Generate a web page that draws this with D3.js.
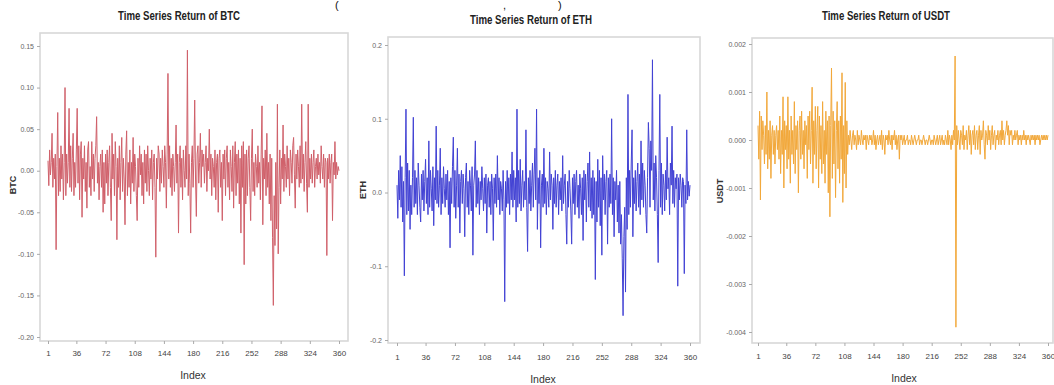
<!DOCTYPE html>
<html>
<head>
<meta charset="utf-8">
<script src="https://cdn.jsdelivr.net/npm/d3@7"></script>
<style>
  body { margin: 0; background: #fff; }
  text { font-family: "Liberation Sans Narrow", "Liberation Sans", Arial, sans-serif; }
</style>
</head>
<body>
<svg id="chart" width="1054" height="385"></svg>
<script>
// Index axis ticks (shared)
const indexTicks = [1, 36, 72, 108, 144, 180, 216, 252, 288, 324, 360]

// y tick values per panel
const btcTicks = [0.15, 0.10, 0.05, 0.00, -0.05, -0.10, -0.15, -0.20]
const ethTicks = [0.2, 0.1, 0.0, -0.1, -0.2]
const usdtTicks = [0.002, 0.001, 0.000, -0.001, -0.002, -0.003, -0.004]

// returns, index 1..360
const btcReturns = [
  0.012, -0.018, 0.025, -0.005, 0.010, 0.045, -0.020, 0.015, -0.010, 0.020, -0.095, 0.005, 0.070, -0.030, 0.015, -0.025, 0.030, -0.010, 0.020, -0.035,
  0.010, 0.100, -0.030, 0.020, -0.015, 0.010, 0.075, -0.020, 0.030, -0.025, 0.015, 0.045, -0.030, 0.010, -0.020, 0.025, 0.075, -0.015, 0.030, -0.035,
  0.020, 0.035, -0.056, 0.015, -0.010, 0.030, -0.025, 0.010, -0.045, 0.025, 0.035, -0.020, 0.005, -0.030, 0.035, -0.010, 0.020, -0.025, 0.015, 0.030,
  0.065, -0.015, 0.010, -0.035, 0.005, 0.020, -0.020, 0.025, -0.050, 0.010, -0.040, 0.020, -0.015, 0.025, -0.030, 0.010, 0.030, -0.020, -0.060, 0.045,
  -0.010, 0.020, -0.030, 0.035, 0.005, -0.083, 0.015, -0.020, 0.030, -0.035, 0.010, 0.040, -0.025, 0.015, -0.010, -0.065, 0.020, 0.048, -0.030, 0.010,
  -0.020, 0.025, -0.040, 0.010, -0.015, 0.040, -0.025, 0.020, 0.005, -0.030, -0.060, 0.015, -0.020, 0.030, -0.005, 0.020, -0.030, 0.010, -0.040, 0.025,
  -0.015, 0.020, -0.025, 0.030, 0.000, -0.030, 0.015, -0.010, 0.025, -0.035, 0.010, 0.020, -0.020, -0.104, 0.015, -0.010, 0.030, 0.020, -0.025, 0.015,
  -0.015, 0.025, 0.005, -0.020, 0.030, 0.010, -0.045, 0.020, 0.117, -0.010, 0.030, -0.020, 0.015, -0.030, 0.020, 0.005, -0.025, 0.010, 0.055, -0.015,
  0.020, -0.075, 0.010, 0.030, -0.020, 0.015, -0.035, 0.025, 0.000, -0.020, 0.030, -0.010, 0.145, -0.030, 0.020, -0.015, -0.075, 0.010, 0.030, -0.020,
  0.015, 0.085, -0.010, -0.055, 0.020, 0.030, -0.015, 0.010, 0.045, -0.020, 0.025, 0.005, 0.020, -0.015, 0.010, 0.030, -0.025, 0.015, 0.000, 0.050,
  -0.010, 0.020, -0.030, 0.015, 0.005, -0.020, 0.025, -0.035, 0.010, 0.020, -0.050, 0.015, 0.025, -0.020, 0.010, -0.060, 0.020, -0.010, 0.025, -0.030,
  0.015, 0.030, -0.020, 0.010, -0.035, 0.025, 0.005, -0.025, 0.030, -0.045, 0.010, 0.035, -0.030, 0.020, -0.015, 0.025, -0.040, 0.015, -0.075, 0.030,
  -0.020, 0.035, -0.113, 0.020, -0.040, 0.025, -0.030, 0.015, 0.030, -0.020, -0.060, 0.015, 0.050, -0.025, 0.010, -0.030, 0.020, 0.005, -0.020, 0.030,
  -0.015, 0.010, -0.035, 0.020, 0.078, -0.065, 0.015, -0.010, 0.025, -0.030, 0.045, -0.020, 0.010, -0.040, 0.020, -0.060, 0.015, -0.080, -0.162, -0.030,
  -0.090, 0.010, -0.070, 0.080, -0.100, -0.020, 0.025, -0.040, 0.015, -0.010, 0.055, -0.025, 0.020, 0.005, -0.020, 0.030, -0.010, 0.015, -0.030, 0.025,
  0.010, -0.015, 0.030, 0.040, -0.005, -0.045, 0.020, -0.010, 0.025, 0.005, -0.020, 0.030, -0.015, 0.080, -0.010, 0.020, -0.025, 0.010, 0.035, -0.015,
  -0.050, 0.080, -0.020, 0.015, -0.010, 0.020, -0.015, 0.010, 0.025, -0.020, 0.005, 0.015, -0.010, 0.020, -0.005, 0.010, -0.015, 0.030, 0.005, -0.010,
  0.020, -0.020, 0.015, 0.010, -0.102, 0.015, -0.010, 0.020, -0.015, 0.010, 0.020, -0.060, 0.010, -0.005, 0.035, -0.010, 0.010, -0.005, 0.005, 0.000
]

const ethReturns = [
  0.010, -0.035, 0.030, -0.010, 0.050, -0.020, 0.035, -0.040, 0.015, -0.113, 0.020, 0.113, -0.030, 0.040, -0.025, 0.030, -0.050, 0.010, -0.030, 0.020,
  0.102, -0.020, 0.030, -0.015, 0.020, -0.030, 0.040, 0.010, -0.020, -0.040, 0.025, -0.010, 0.030, -0.025, 0.015, 0.045, -0.015, 0.020, -0.030, 0.070,
  -0.020, 0.030, 0.005, -0.025, 0.035, -0.045, 0.020, -0.010, 0.090, -0.015, 0.030, -0.020, 0.010, 0.060, -0.030, 0.020, -0.015, 0.035, 0.005, -0.020,
  0.025, -0.010, 0.030, -0.030, 0.015, -0.075, 0.020, -0.015, 0.035, 0.075, -0.020, 0.030, -0.035, 0.010, 0.060, -0.020, 0.025, -0.055, 0.015, 0.030,
  -0.015, 0.025, 0.005, -0.060, 0.020, 0.040, -0.020, 0.015, -0.030, 0.030, 0.010, -0.025, 0.035, -0.085, 0.010, 0.025, 0.070, -0.020, 0.030, -0.015,
  0.020, -0.030, 0.015, -0.010, 0.035, 0.005, -0.025, 0.020, -0.015, 0.025, -0.055, 0.010, 0.020, -0.020, 0.015, -0.030, 0.025, 0.005, -0.065, 0.020,
  -0.015, 0.025, -0.020, 0.050, -0.010, 0.020, -0.030, 0.015, 0.005, -0.025, 0.030, -0.010, -0.148, 0.015, -0.020, 0.030, -0.015, 0.020, -0.030, 0.025,
  -0.010, 0.055, -0.020, 0.030, -0.010, 0.020, -0.040, 0.113, -0.020, 0.030, -0.015, 0.045, -0.025, 0.010, 0.030, -0.020, 0.015, -0.010, 0.085, -0.020,
  -0.080, 0.020, -0.015, 0.030, -0.025, 0.010, 0.040, -0.020, 0.025, 0.060, -0.010, 0.113, -0.050, 0.020, -0.015, 0.030, -0.075, 0.010, 0.025, -0.020,
  0.060, -0.015, 0.020, -0.030, 0.015, 0.005, -0.020, 0.055, -0.010, 0.025, 0.010, -0.050, 0.020, -0.015, 0.030, -0.020, 0.010, 0.025, -0.030, 0.015,
  -0.010, 0.020, -0.025, 0.050, -0.015, 0.010, 0.025, -0.030, -0.070, 0.015, -0.020, 0.030, 0.005, -0.025, -0.070, 0.020, -0.015, 0.025, -0.030, 0.015,
  0.030, -0.020, 0.010, -0.035, 0.025, 0.005, -0.030, 0.020, -0.065, 0.030, -0.010, 0.025, -0.040, 0.015, 0.040, -0.020, 0.055, -0.025, 0.020, -0.035,
  0.030, -0.030, 0.020, -0.118, 0.015, -0.040, 0.045, -0.020, 0.030, -0.045, 0.020, -0.085, 0.050, -0.010, 0.025, -0.030, 0.015, 0.030, -0.070, 0.020,
  -0.020, 0.025, -0.015, 0.100, -0.030, 0.020, -0.060, 0.015, -0.010, 0.030, -0.040, 0.010, -0.055, 0.015, -0.070, -0.030, -0.090, -0.167, -0.060, -0.020,
  -0.135, 0.020, -0.050, 0.133, -0.030, 0.030, -0.020, 0.040, 0.085, -0.060, 0.020, -0.015, 0.030, -0.025, 0.015, 0.040, -0.020, 0.025, -0.030, 0.070,
  -0.010, 0.040, -0.020, 0.030, 0.010, -0.030, -0.055, 0.020, 0.095, 0.060, -0.020, 0.070, 0.030, 0.180, -0.010, 0.040, -0.025, 0.050, 0.020, -0.030,
  -0.095, 0.030, 0.133, -0.020, 0.040, -0.030, 0.025, 0.010, -0.025, 0.030, -0.010, 0.075, 0.005, 0.020, -0.030, 0.040, 0.010, 0.090, -0.015, 0.030,
  -0.020, 0.020, 0.005, 0.025, -0.127, 0.020, -0.010, 0.025, 0.010, -0.020, 0.020, 0.015, -0.110, 0.010, -0.015, 0.085, -0.010, 0.015, -0.005, 0.010
]

const usdtReturns = [
  0.0003, -0.0004, 0.0006, -0.00125, 0.0005, -0.0002, 0.0004, 0.0001, -0.0005, 0.0003, -0.0003, 0.0010, -0.0006, 0.0002, -0.0004, 0.0004, -0.0008, 0.0001, 0.0003, -0.0003,
  0.0002, -0.0005, 0.0001, 0.0003, -0.0002, 0.0002, -0.0004, 0.0005, -0.0007, 0.0002, -0.0003, 0.0009, -0.0010, 0.0004, -0.0002, 0.0003, -0.0006, 0.0009, -0.0004, 0.0002,
  -0.0009, 0.0005, -0.0003, 0.0002, -0.0005, 0.0008, -0.0007, 0.0003, -0.0002, 0.0004, -0.0011, 0.0002, 0.0005, -0.0004, 0.0006, -0.0003, 0.0002, -0.0006, 0.0004, -0.0001,
  0.0003, -0.0008, 0.0005, -0.0002, 0.0006, -0.0005, 0.0002, 0.0011, -0.0009, 0.0004, -0.0003, 0.0007, -0.0006, 0.0002, 0.0007, -0.0010, 0.0005, -0.0004, 0.0003, -0.0007,
  0.0008, -0.0005, 0.0002, -0.0009, 0.0006, -0.0003, 0.0004, -0.0011, 0.0005, -0.0016, 0.0003, 0.0015, -0.0008, 0.0006, -0.0005, 0.0004, -0.0012, 0.0002, 0.0008, -0.0006,
  0.0004, -0.0009, 0.0005, -0.0004, 0.0014, -0.0013, 0.0003, -0.0007, 0.0012, -0.0010, 0.0004, -0.0003, 0.0001, -0.0001, 0.0002, 0.0000, -0.0002, 0.0001, 0.0002, -0.0001,
  0.0001, 0.0000, -0.0002, 0.0002, -0.0001, 0.0001, 0.0000, -0.0001, 0.0002, 0.0000, -0.0001, 0.0001, 0.0000, 0.0001, -0.0002, 0.0001, 0.0000, -0.0001, 0.0001, 0.0000,
  0.0001, -0.0001, 0.0000, 0.0002, -0.0001, 0.0001, -0.0002, 0.0000, 0.0001, -0.0001, 0.0000, 0.0001, -0.0001, 0.0002, -0.0002, 0.0001, 0.0000, -0.0003, 0.0001, 0.0000,
  0.0001, -0.0001, 0.0002, 0.0000, -0.0001, 0.0001, -0.0002, 0.0001, 0.0000, 0.0002, -0.0001, 0.0001, -0.0002, 0.0000, 0.0001, -0.0004, 0.0001, 0.0000, 0.0001, -0.0001,
  0.0000, 0.0001, -0.0001, 0.0000, 0.0000, 0.0001, -0.0001, 0.0000, 0.0000, -0.0001, 0.0001, 0.0000, -0.0001, 0.0000, 0.0001, 0.0000, -0.0001, 0.0000, 0.0000, 0.0001,
  -0.0001, 0.0000, 0.0000, -0.0001, 0.0000, 0.0001, 0.0000, -0.0001, 0.0000, 0.0000, -0.0001, 0.0000, 0.0001, 0.0000, -0.0001, 0.0000, 0.0000, -0.0001, 0.0001, 0.0000,
  -0.0001, 0.0000, 0.0001, -0.0001, 0.0000, 0.0001, -0.0001, 0.0000, 0.0001, -0.0001, 0.0000, -0.0001, 0.0001, 0.0000, -0.0001, 0.0002, -0.0001, 0.0001, 0.0000, -0.0002,
  0.0001, -0.0001, 0.0002, 0.0000, 0.00175, -0.0039, 0.0003, -0.0001, 0.0002, 0.0000, -0.0002, 0.0002, 0.0001, -0.0001, 0.0003, -0.0002, 0.0001, 0.0000, 0.0002, -0.0002,
  0.0001, 0.0003, -0.0001, 0.0002, -0.0003, 0.0001, 0.0002, -0.0001, 0.0003, -0.0002, 0.0001, 0.0002, -0.0002, 0.0001, 0.0003, -0.0003, 0.0002, 0.0000, 0.0001, 0.0004,
  -0.0001, -0.0004, 0.0002, 0.0001, -0.0001, 0.0003, 0.0000, 0.0002, -0.0002, 0.0001, 0.0003, -0.0001, 0.0001, 0.0002, -0.0002, 0.0001, 0.0000, 0.0002, -0.0001, 0.0001,
  0.0002, -0.0001, 0.0004, 0.0000, 0.0002, -0.0001, 0.0001, 0.0002, 0.0004, 0.0001, 0.0003, -0.0001, 0.0002, 0.0001, 0.0002, -0.0001, 0.0001, 0.0000, 0.0002, 0.0000,
  0.0001, 0.0002, -0.0001, 0.0001, 0.0000, 0.0001, -0.0001, 0.0001, 0.0000, 0.0002, 0.0000, 0.0001, -0.0001, 0.0001, 0.0000, 0.0001, 0.0000, -0.0001, 0.0001, 0.0000,
  0.0001, 0.0000, 0.0001, -0.0001, 0.0001, 0.0000, 0.0001, 0.0000, 0.0001, -0.0001, 0.0000, 0.0001, 0.0000, 0.0001, 0.0000, 0.0001, 0.0000, 0.0001, 0.0000, 0.0001
]

const svg = d3.select('#chart')

// fragments of the caption line above the figure
svg.append('g')
  .selectAll('text')
  .data([{ t: '(', x: 335 }, { t: ',', x: 503 }, { t: ')', x: 558 }])
  .join('text')
  .attr('x', d => d.x)
  .attr('y', 9)
  .attr('font-size', 11)
  .attr('fill', '#111')
  .text(d => d.t)

const noMinus = f => v => f(v).replace('\u2212', '-')

function drawPanel(p) {
  const g = svg.append('g')

  const x = d3.scaleLinear()
    .domain([1, 360])
    .range([p.x1, p.x360])
  const y = d3.scaleLinear()
    .domain([p.ticks[p.ticks.length - 1], p.ticks[0]])
    .range([p.yBottom, p.yTop])

  // frame
  g.append('rect')
    .attr('x', p.left)
    .attr('y', p.top)
    .attr('width', p.right - p.left)
    .attr('height', p.bottom - p.top)
    .attr('fill', '#fff')
    .attr('stroke', '#d8d8d8')
    .attr('stroke-width', 1.6)

  // y axis
  g.append('g')
    .attr('transform', `translate(${p.left},0)`)
    .call(d3.axisLeft(y).tickValues(p.ticks).tickSize(3).tickPadding(3).tickFormat(noMinus(d3.format(p.fmt))))
    .call(a => a.select('.domain').remove())
    .call(a => a.selectAll('line').attr('stroke', '#aaa'))
    .call(a => a.selectAll('text').attr('fill', '#666').attr('font-size', 7).attr('font-family', null))

  // x axis
  g.append('g')
    .attr('transform', `translate(0,${p.bottom})`)
    .call(d3.axisBottom(x).tickValues(indexTicks).tickSize(3).tickPadding(p.xPad))
    .call(a => a.select('.domain').remove())
    .call(a => a.selectAll('line').attr('stroke', '#aaa'))
    .call(a => a.selectAll('text').attr('fill', '#444').attr('font-size', 8).attr('font-family', null))

  // series line
  const line = d3.line()
    .x((d, i) => x(i + 1))
    .y(d => y(d))
  g.append('path')
    .datum(p.values)
    .attr('d', line)
    .attr('fill', 'none')
    .attr('stroke', p.color)
    .attr('stroke-width', 1)
    .attr('stroke-linejoin', 'round')

  // title
  g.append('text')
    .attr('x', p.titleX)
    .attr('y', p.titleY)
    .attr('text-anchor', 'middle')
    .attr('font-size', 12)
    .attr('font-weight', 'bold')
    .attr('fill', '#222')
    .attr('textLength', p.titleW)
    .attr('lengthAdjust', 'spacingAndGlyphs')
    .text(p.title)

  // x label
  g.append('text')
    .attr('x', p.indexX)
    .attr('y', p.indexY)
    .attr('text-anchor', 'middle')
    .attr('font-size', 10.5)
    .attr('fill', '#333')
    .text('Index')

  // y label
  g.append('text')
    .attr('transform', `translate(${p.labelX},${p.labelY}) rotate(-90)`)
    .attr('text-anchor', 'middle')
    .attr('font-size', 9)
    .attr('font-weight', 'bold')
    .attr('fill', '#333')
    .text(p.name)
}

drawPanel({
  name: 'BTC', title: 'Time Series Return of BTC', values: btcReturns, ticks: btcTicks, fmt: '.2f',
  color: '#d0606a',
  left: 40, right: 348, top: 33, bottom: 341,
  x1: 48, x360: 339, yTop: 46, yBottom: 337,
  titleX: 179, titleY: 20, titleW: 122,
  indexX: 193, indexY: 379, labelX: 16, labelY: 185, xPad: 6
})

drawPanel({
  name: 'ETH', title: 'Time Series Return of ETH', values: ethReturns, ticks: ethTicks, fmt: '.1f',
  color: '#4242d4',
  left: 388, right: 700, top: 37, bottom: 343,
  x1: 397, x360: 690, yTop: 45, yBottom: 340,
  titleX: 531, titleY: 24, titleW: 122,
  indexX: 543, indexY: 383, labelX: 366, labelY: 190, xPad: 8
})

drawPanel({
  name: 'USDT', title: 'Time Series Return of USDT', values: usdtReturns, ticks: usdtTicks, fmt: '.3f',
  color: '#f2a83a',
  left: 752, right: 1053, top: 38, bottom: 343,
  x1: 758, x360: 1048, yTop: 44, yBottom: 332,
  titleX: 886, titleY: 20, titleW: 128,
  indexX: 904, indexY: 382, labelX: 723, labelY: 191, xPad: 7
})
</script>
</body>
</html>
